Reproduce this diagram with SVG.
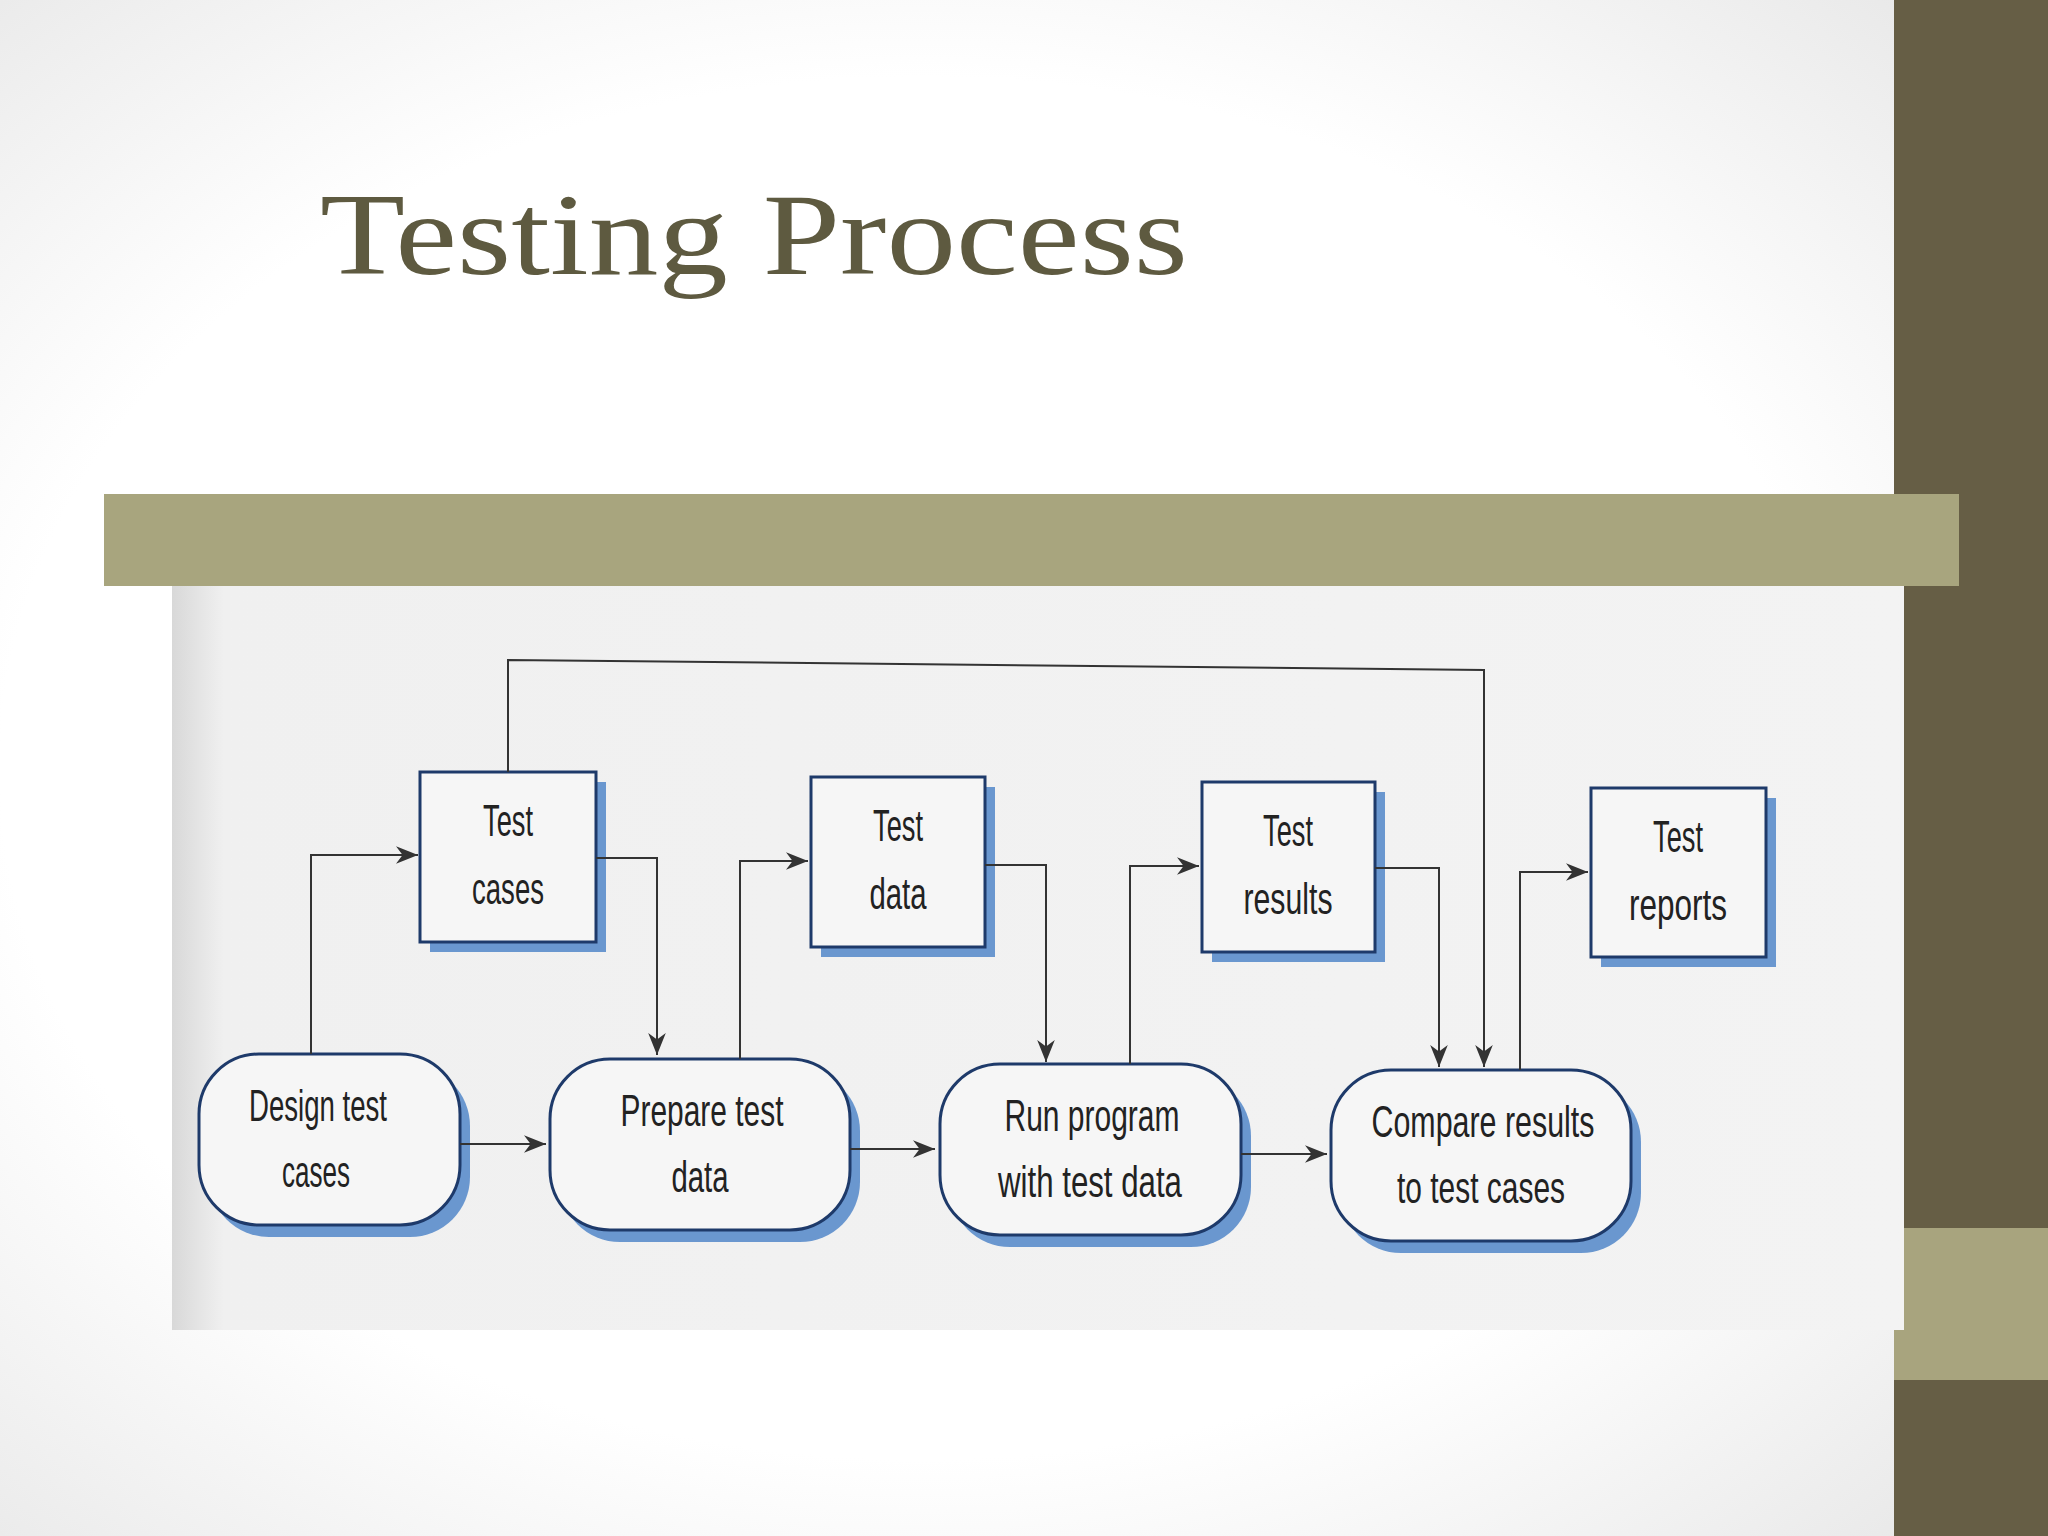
<svg xmlns="http://www.w3.org/2000/svg" width="2048" height="1536" viewBox="0 0 2048 1536">
<defs>
<radialGradient id="bg" cx="0.45" cy="0.5" r="0.75">
<stop offset="0.6" stop-color="#ffffff"/><stop offset="1" stop-color="#e4e4e4"/>
</radialGradient>
<linearGradient id="ph" x1="0" x2="1" y1="0" y2="0">
<stop offset="0" stop-color="#d8d8d8"/><stop offset="0.03" stop-color="#f0f0f0"/><stop offset="1" stop-color="#f3f3f3"/>
</linearGradient>
<marker id="ah" viewBox="0 0 10 10" refX="10" refY="5" markerWidth="22" markerHeight="22" markerUnits="userSpaceOnUse" orient="auto">
<path d="M0,1 L10,5 L0,9 L3,5 z" fill="#333"/>
</marker>
<style>
.box{fill:#f6f6f6;stroke:#1e3a6a;stroke-width:3}
.sh{fill:#6a97cf}
.t{font-family:"Liberation Sans",sans-serif;font-size:44px;fill:#222;text-anchor:middle}
.c{fill:none;stroke:#333;stroke-width:2;marker-end:url(#ah)}
</style>
</defs>
<rect width="2048" height="1536" fill="url(#bg)"/>
<rect x="1894" y="0" width="154" height="1536" fill="#665e45"/>
<rect x="1894" y="1228" width="154" height="152" fill="#a8a47e"/>
<text x="320" y="274" font-family="Liberation Serif,serif" font-size="116" fill="#5e5a40" textLength="868" lengthAdjust="spacingAndGlyphs">Testing Process</text>
<rect x="172" y="586" width="1732" height="744" fill="url(#ph)"/>
<rect x="104" y="494" width="1855" height="92" fill="#a8a57e"/>
<g id="test-cases"><rect class="sh" x="430" y="782" width="176" height="170"/><rect class="box" x="420" y="772" width="176" height="170"/><text class="t" x="508" y="836" textLength="50" lengthAdjust="spacingAndGlyphs">Test</text><text class="t" x="508" y="904" textLength="72" lengthAdjust="spacingAndGlyphs">cases</text></g>
<g id="test-data"><rect class="sh" x="821" y="787" width="174" height="170"/><rect class="box" x="811" y="777" width="174" height="170"/><text class="t" x="898" y="841" textLength="50" lengthAdjust="spacingAndGlyphs">Test</text><text class="t" x="898" y="909" textLength="57" lengthAdjust="spacingAndGlyphs">data</text></g>
<g id="test-results"><rect class="sh" x="1212" y="792" width="173" height="170"/><rect class="box" x="1202" y="782" width="173" height="170"/><text class="t" x="1288" y="846" textLength="50" lengthAdjust="spacingAndGlyphs">Test</text><text class="t" x="1288" y="914" textLength="89" lengthAdjust="spacingAndGlyphs">results</text></g>
<g id="test-reports"><rect class="sh" x="1601" y="798" width="175" height="169"/><rect class="box" x="1591" y="788" width="175" height="169"/><text class="t" x="1678" y="852" textLength="50" lengthAdjust="spacingAndGlyphs">Test</text><text class="t" x="1678" y="920" textLength="98" lengthAdjust="spacingAndGlyphs">reports</text></g>
<g id="design"><rect class="sh" x="209" y="1066" width="261" height="171" rx="60"/><rect class="box" x="199" y="1054" width="261" height="171" rx="60"/><text class="t" x="318" y="1121" textLength="138" lengthAdjust="spacingAndGlyphs">Design test</text><text class="t" x="316" y="1187" textLength="68" lengthAdjust="spacingAndGlyphs">cases</text></g>
<g id="prepare"><rect class="sh" x="560" y="1071" width="300" height="171" rx="60"/><rect class="box" x="550" y="1059" width="300" height="171" rx="60"/><text class="t" x="702" y="1126" textLength="163" lengthAdjust="spacingAndGlyphs">Prepare test</text><text class="t" x="700" y="1192" textLength="57" lengthAdjust="spacingAndGlyphs">data</text></g>
<g id="run"><rect class="sh" x="950" y="1076" width="301" height="171" rx="60"/><rect class="box" x="940" y="1064" width="301" height="171" rx="60"/><text class="t" x="1092" y="1131" textLength="175" lengthAdjust="spacingAndGlyphs">Run program</text><text class="t" x="1090" y="1197" textLength="184" lengthAdjust="spacingAndGlyphs">with test data</text></g>
<g id="compare"><rect class="sh" x="1341" y="1082" width="300" height="171" rx="60"/><rect class="box" x="1331" y="1070" width="300" height="171" rx="60"/><text class="t" x="1483" y="1137" textLength="223" lengthAdjust="spacingAndGlyphs">Compare results</text><text class="t" x="1481" y="1203" textLength="168" lengthAdjust="spacingAndGlyphs">to test cases</text></g>
<g id="connectors">
<path class="c" d="M311,1054 V855 H418"/>
<path class="c" d="M596,858 H657 V1055"/>
<path class="c" d="M740,1059 V861 H808"/>
<path class="c" d="M985,865 H1046 V1062"/>
<path class="c" d="M1130,1064 V866 H1199"/>
<path class="c" d="M1375,868 H1439 V1067"/>
<path class="c" d="M508,772 V660 L1484,670 V1067"/>
<path class="c" d="M1520,1070 V872 H1588"/>
<path class="c" d="M460,1144 H546"/>
<path class="c" d="M850,1149 H935"/>
<path class="c" d="M1241,1154 H1327"/>
</g>
</svg>
